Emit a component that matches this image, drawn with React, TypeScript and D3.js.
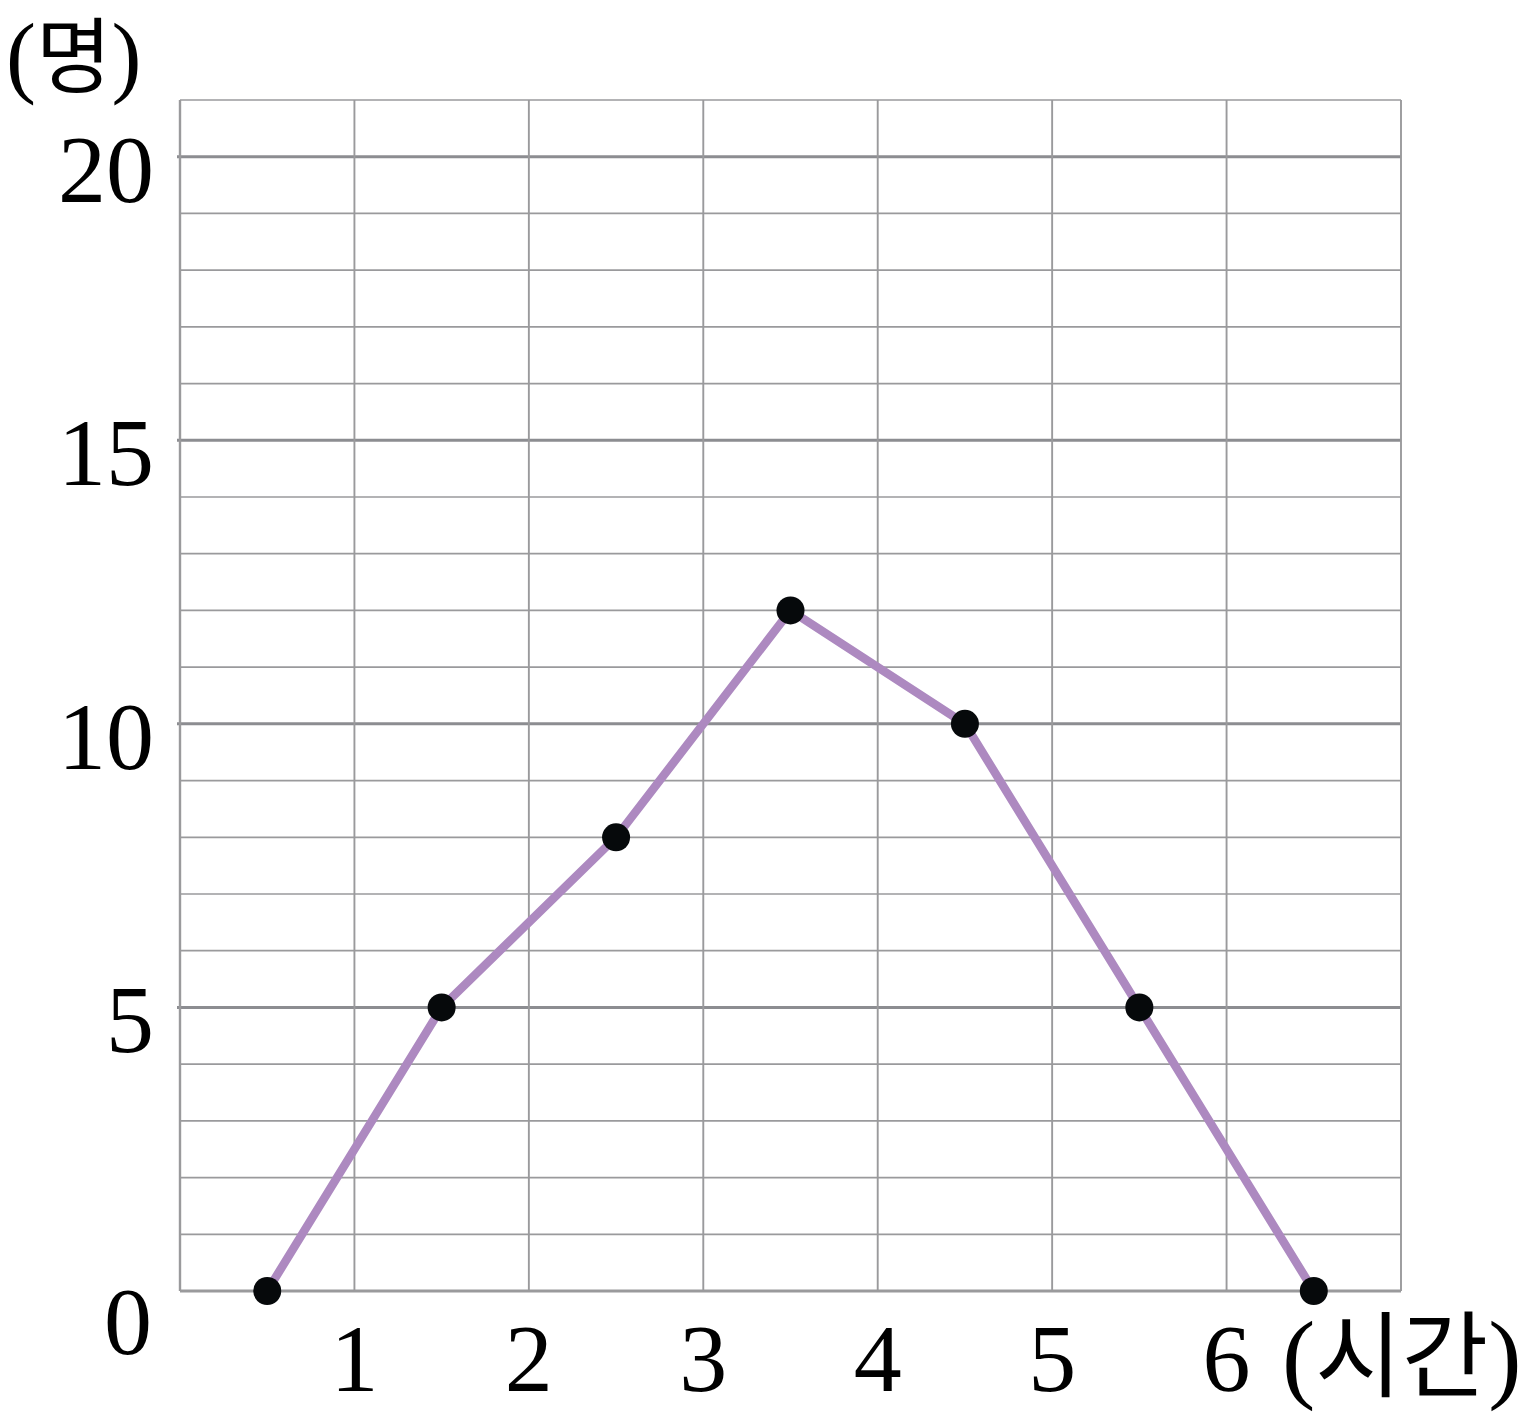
import React from "react";
import * as d3 from "d3";

const hours = [0.5, 1.5, 2.5, 3.5, 4.5, 5.5, 6.5];
const counts = [0, 5, 8, 12, 10, 5, 0];
const xTickLabels = ["1", "2", "3", "4", "5", "6"];
const yTickLabels = ["5", "10", "15", "20"];
const yUnit = "명";
const xUnit = "시간";

const W = 1533;
const H = 1421;
const left = 180, right = 1401, top = 100, bottom = 1291;

export default function App() {
  const x = d3.scaleLinear().domain([0, 7]).range([left, right]);
  const y = d3.scaleLinear().domain([0, 21]).range([bottom, top]);
  const line = d3
    .line<number>()
    .x((_, i) => x(hours[i]))
    .y((d) => y(d));
  const vTicks = d3.range(0, 8);
  const hTicks = d3.range(0, 22);
  const serif = "'Liberation Serif', 'DejaVu Serif', serif";
  const kr = "'Noto Sans CJK KR', sans-serif";
  return (
    <svg
      width={W}
      height={H}
      style={{ position: "absolute", left: 0, top: 0, background: "#fff" }}
    >
      <g>
        {hTicks.map((t) => {
          const major = t % 5 === 0 && t > 0;
          return (
            <line
              key={"h" + t}
              x1={major ? left - 3 : left}
              x2={right}
              y1={y(t)}
              y2={y(t)}
              stroke={major ? "#8c8d91" : "#9a9a9c"}
              strokeWidth={major || t === 0 ? 3 : 1.7}
            />
          );
        })}
        {vTicks.map((t) => (
          <line
            key={"v" + t}
            x1={x(t)}
            x2={x(t)}
            y1={top}
            y2={bottom}
            stroke="#9a9a9c"
            strokeWidth={t === 0 ? 2.4 : 1.9}
          />
        ))}
      </g>
      <path d={line(counts) || ""} fill="none" stroke="#ad89c0" strokeWidth={8.5} />
      {counts.map((c, i) => (
        <circle key={i} cx={x(hours[i])} cy={y(c)} r={14} fill="#06090b" />
      ))}
      <g fontFamily={serif} fontSize={96} fill="#000">
        {yTickLabels.map((l) => (
          <text key={l} x={154} y={y(+l) + 45} textAnchor="end">
            {l}
          </text>
        ))}
        <text x={128} y={1354} textAnchor="middle">0</text>
        {xTickLabels.map((l) => (
          <text key={l} x={x(+l)} y={1391} textAnchor="middle">
            {l}
          </text>
        ))}
      </g>
      <text x={6} y={86} fontSize={90} fontFamily={serif}>
        (<tspan fontFamily={kr} fontSize={82}>{yUnit}</tspan>)
      </text>
      <text x={1282} y={1390} fontSize={100} fontFamily={serif}>
        (<tspan fontFamily={kr} fontSize={94}>{xUnit}</tspan>)
      </text>
    </svg>
  );
}
